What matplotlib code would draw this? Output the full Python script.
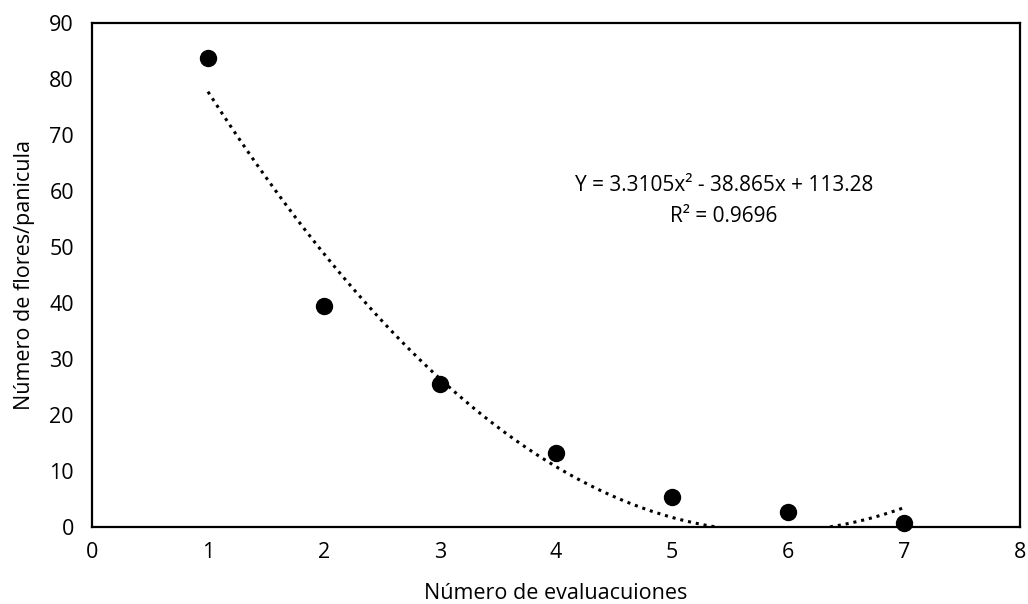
import numpy as np
import matplotlib.pyplot as plt

plt.rcParams['font.family'] = ['Open Sans', 'DejaVu Sans']

# Datos
evaluaciones = [1, 2, 3, 4, 5, 6, 7]
flores = [83.8, 39.5, 25.5, 13.2, 5.3, 2.7, 0.7]

# Coeficientes de la línea de tendencia polinómica
coef = [3.3105, -38.865, 113.28]

fig = plt.figure(figsize=(10.28, 6.04), dpi=100)
ax = fig.add_axes([0.0895, 0.1275, 0.9025, 0.8345])

xs = np.linspace(1, 7, 200)
ax.plot(xs, np.polyval(coef, xs), color="black", linestyle=(0, (1, 1.6)), linewidth=2.2)
ax.plot(evaluaciones, flores, "o", color="black", markersize=11.5, clip_on=False, zorder=3)

ax.text(5.45, 61, "Y = 3.3105x² - 38.865x + 113.28", ha="center", va="center", fontsize=15)
ax.text(5.45, 55.5, "R² = 0.9696", ha="center", va="center", fontsize=15)

ax.set_xlim(0, 8)
ax.set_ylim(0, 90)
ax.set_xticks(range(0, 9))
ax.set_yticks(range(0, 91, 10))
ax.tick_params(length=0, labelsize=15.5)
ax.tick_params(axis="y", pad=13)
ax.tick_params(axis="x", pad=11)
for s in ax.spines.values():
    s.set_linewidth(1.6)

ax.set_xlabel("Número de evaluacuiones", fontsize=15.5, labelpad=14)
ax.set_ylabel("Número de flores/panicula", fontsize=15.5, labelpad=10)

plt.savefig("out.png", dpi=100)
